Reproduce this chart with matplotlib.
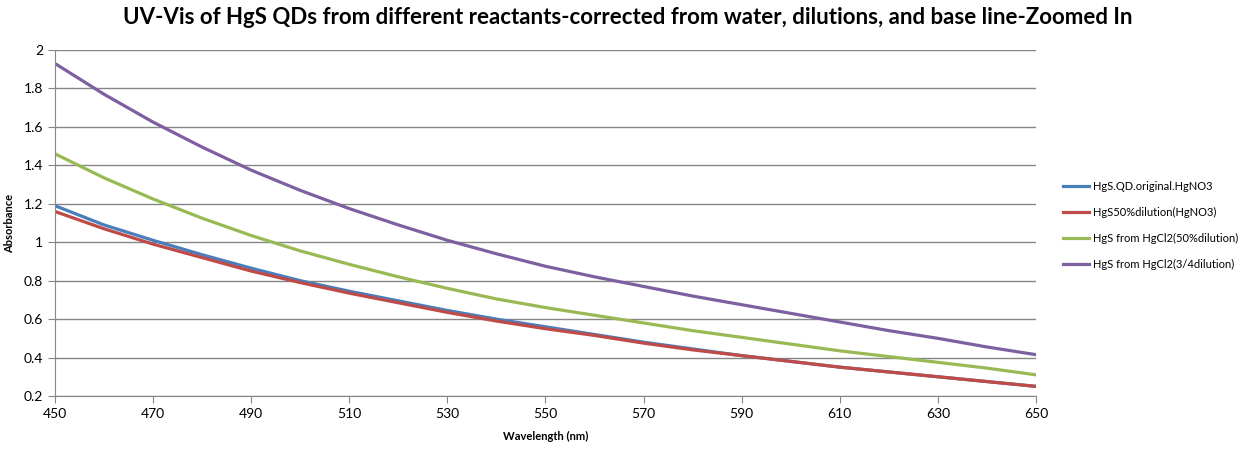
import numpy as np
import matplotlib.pyplot as plt

# Wavelengths (nm) and absorbance readings
wavelength = [450, 460, 470, 480, 490, 500, 510, 520, 530, 540, 550,
              560, 570, 580, 590, 600, 610, 620, 630, 640, 650]
hgs_original = [1.19, 1.09, 1.01, 0.935, 0.865, 0.80, 0.745, 0.695, 0.645, 0.60, 0.56,
                0.52, 0.48, 0.445, 0.41, 0.38, 0.35, 0.325, 0.30, 0.275, 0.25]
hgs_50_hgno3 = [1.16, 1.07, 0.99, 0.92, 0.85, 0.79, 0.735, 0.685, 0.635, 0.59, 0.55,
                0.515, 0.475, 0.44, 0.41, 0.38, 0.35, 0.325, 0.30, 0.275, 0.25]
hgs_hgcl2_50 = [1.46, 1.335, 1.225, 1.125, 1.035, 0.955, 0.885, 0.82, 0.76, 0.705, 0.66,
                0.62, 0.58, 0.54, 0.505, 0.47, 0.435, 0.405, 0.375, 0.345, 0.31]
hgs_hgcl2_34 = [1.93, 1.77, 1.625, 1.495, 1.375, 1.27, 1.175, 1.09, 1.01, 0.94, 0.875,
                0.82, 0.77, 0.72, 0.675, 0.63, 0.585, 0.54, 0.50, 0.455, 0.415]

labels = ['HgS.QD.original.HgNO3', 'HgS50%dilution(HgNO3)',
          'HgS from HgCl2(50%dilution)', 'HgS from HgCl2(3/4dilution)']
colors = ['#4A7EBB', '#BE4B48', '#98B954', '#7D60A0']
series = [hgs_original, hgs_50_hgno3, hgs_hgcl2_50, hgs_hgcl2_34]

plt.rcParams['font.family'] = ['Lato', 'DejaVu Sans']

fig = plt.figure(figsize=(12.56, 4.51), dpi=100)
ax = fig.add_axes([0.0438, 0.122, 0.781, 0.767])

for y, c, lab in zip(series, colors, labels):
    ax.plot(wavelength, y, color=c, linewidth=2.3, label=lab)

ax.set_xlim(450, 650)
ax.set_ylim(0.2, 2)
ax.set_xticks(np.arange(450, 651, 20))
ax.set_yticks(np.arange(0.2, 2.01, 0.2))
ax.set_yticklabels(['0.2', '0.4', '0.6', '0.8', '1', '1.2', '1.4', '1.6', '1.8', '2'])
ax.grid(axis='y', color='#868686', linewidth=1)
ax.set_axisbelow(True)
for s in ['top', 'right']:
    ax.spines[s].set_visible(False)
for s in ['left', 'bottom']:
    ax.spines[s].set_color('#868686')
ax.tick_params(colors='#868686', labelcolor='black', labelsize=10, length=5, direction='out')

ax.set_xlabel('Wavelength (nm)', fontsize=8, fontweight='bold', labelpad=8)
ax.set_ylabel('Absorbance', fontsize=8, fontweight='bold', labelpad=6)

fig.suptitle('UV-Vis of HgS QDs from different reactants-corrected from water, dilutions, and base line-Zoomed In',
             fontsize=16, fontweight='bold', y=0.985)

fig.legend(loc='center left', bbox_to_anchor=(0.838, 0.5), frameon=False, fontsize=8,
           handlelength=2.4, handletextpad=0.3, labelspacing=1.35)

fig.savefig('out.png', dpi=100)
